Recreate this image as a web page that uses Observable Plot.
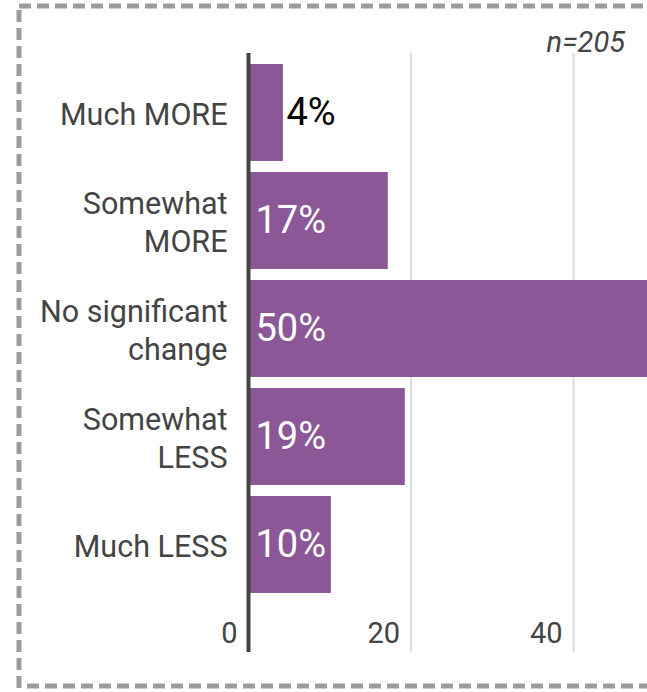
<!DOCTYPE html>
<html>
<head>
<meta charset="utf-8">
<script src="https://cdn.jsdelivr.net/npm/d3@7"></script>
<script src="https://cdn.jsdelivr.net/npm/@observablehq/plot@0.6"></script>
<style>
  html, body { margin: 0; padding: 0; background: #fff; overflow: hidden; }
  #wrap { position: relative; width: 647px; height: 692px; overflow: hidden; font-family: Roboto, sans-serif; }
  #chart { position: absolute; left: 0; top: 0; }
  #chart svg { overflow: hidden; }
  #border { position: absolute; left: 0; top: 0; pointer-events: none; }
  #n { position: absolute; right: 22px; top: 28px; font: italic 29px/29px Roboto, sans-serif; color: #444; }
</style>
</head>
<body>
<div id="wrap">
  <div id="chart"></div>
  <div id="n">n=205</div>
</div>
<script>
// Data
const categories = ["Much MORE", "Somewhat\nMORE", "No significant\nchange", "Somewhat\nLESS", "Much LESS"];
const values = [4.3, 17.2, 50, 19.3, 10.2];
const valueLabels = ["4%", "17%", "50%", "19%", "10%"];
const xTicks = [0, 20, 40];
const gridTicks = [20, 40];

const data = categories.map((c, i) => ({cat: c, v: values[i], label: valueLabels[i]}));
const inside = d => d.v >= 8;

const chart = Plot.plot({
  width: 647,
  height: 692,
  marginTop: 53,
  marginBottom: 40,
  marginLeft: 248,
  marginRight: 0,
  style: {fontFamily: "Roboto, sans-serif", background: "#fff", overflow: "hidden"},
  x: {domain: [0, 40], range: [248, 573], axis: null},
  y: {domain: categories, range: [64, 594], paddingInner: 0.1, paddingOuter: 0, axis: null},
  marks: [
    Plot.ruleX(gridTicks, {stroke: "#dcdcdc", strokeWidth: 2}),
    Plot.barX(data, {y: "cat", x1: 0, x2: "v", fill: "#8b5797"}),
    Plot.ruleX([0], {stroke: "#444", strokeWidth: 4}),
    Plot.text(data.filter(inside), {
      y: "cat", x: 0, text: "label", textAnchor: "start", dx: 7,
      fill: "#fff", fontSize: 38
    }),
    Plot.text(data.filter(d => !inside(d)), {
      y: "cat", x: "v", text: "label", textAnchor: "start", dx: 3,
      fill: "#000", fontSize: 38
    }),
    Plot.text(categories, {
      y: d => d, x: 0, text: d => d, textAnchor: "end", dx: -21,
      fontSize: 30.5, lineHeight: 1.22, fill: "#444"
    }),
    Plot.text(xTicks, {
      x: d => d, text: d => String(d), frameAnchor: "bottom", lineAnchor: "bottom",
      textAnchor: "end", dx: -11, dy: -10, fontSize: 29, fill: "#444"
    })
  ]
});
document.getElementById("chart").appendChild(chart);

// Decorative dashed border
const b = d3.select("#wrap").append("svg").attr("id", "border").attr("width", 647).attr("height", 692);
["M19,6H720", "M19,10V690", "M27,686H720"].forEach(p => {
  b.append("path").attr("d", p).attr("fill", "none").attr("stroke", "#9b9b9b")
    .attr("stroke-width", 5).attr("stroke-dasharray", "12 6");
});
</script>
</body>
</html>
